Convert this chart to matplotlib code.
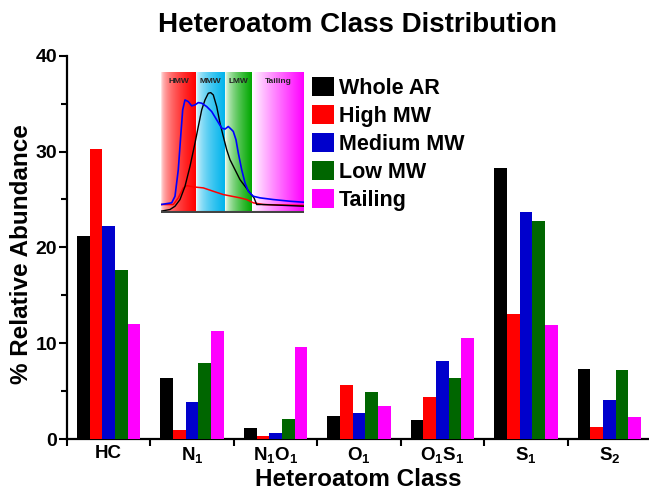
"""Heteroatom class distribution bar chart with chromatogram inset."""
import numpy as np
import matplotlib
matplotlib.use('Agg')
import matplotlib.pyplot as plt
from matplotlib.colors import to_rgb

plt.rcParams['font.family'] = ['Liberation Sans', 'DejaVu Sans']
plt.rcParams['font.weight'] = 'bold'
plt.rcParams['mathtext.fontset'] = 'custom'
plt.rcParams['mathtext.rm'] = 'Liberation Sans:bold'
plt.rcParams['mathtext.it'] = 'Liberation Sans:bold'
plt.rcParams['mathtext.bf'] = 'Liberation Sans:bold'

# bar data (% relative abundance)
classes = ['HC', 'N$_1$', 'N$_1$O$_1$', 'O$_1$', 'O$_1$S$_1$', 'S$_1$', 'S$_2$']
series = ['Whole AR', 'High MW', 'Medium MW', 'Low MW', 'Tailing']
whole_ar = [21.2, 6.4, 1.2, 2.4, 2.0, 28.3, 7.3]
high_mw = [30.3, 0.9, 0.3, 5.6, 4.4, 13.0, 1.3]
medium_mw = [22.2, 3.9, 0.6, 2.7, 8.1, 23.7, 4.1]
low_mw = [17.6, 7.9, 2.1, 4.9, 6.4, 22.8, 7.2]
tailing = [12.0, 11.3, 9.6, 3.4, 10.5, 11.9, 2.3]
colors = ['#000000', '#FF0000', '#0000CC', '#006600', '#FF00FF']

# inset chromatogram traces (x position, signal height)
black_x = [161, 170, 175, 180, 185, 190, 195, 198.3, 201.7, 205, 208.3, 210.7, 213.3,
           216.7, 220, 223.3, 226.7, 230, 235, 240, 245, 250, 254, 256.7, 263.3, 280, 304]
black_y = [0.3, 2, 5.3, 12, 25.3, 45.3, 68.7, 85.3, 102, 112, 118.7, 119.3, 117,
           105.3, 88.7, 75.3, 62, 52, 42, 32, 25.3, 18.7, 13.7, 7, 7, 6.3, 5.3]
blue_x = [161, 171.7, 175, 178.3, 180.7, 182.7, 185, 188.3, 191.7, 195, 198.3, 201.7,
          206.7, 211.7, 216.7, 221.7, 225, 228.3, 231.7, 233.3, 236, 238.3, 241.7, 245,
          248.3, 253.3, 260, 273.3, 290, 304]
blue_y = [7, 8.7, 15.3, 42, 75.3, 102, 112, 110.3, 106, 107, 109.3, 108.7,
          105.3, 100.3, 92, 83.7, 82.7, 85.3, 82, 80.3, 72, 58.7, 42, 28.7,
          20.3, 15.3, 13.7, 12, 10.3, 9.3]
red_x = [161, 173.3, 178.3, 183.3, 186.7, 193.3, 203.3, 213.3, 223.3, 235, 240, 246.7,
         253.3, 263.3, 304]
red_y = [7, 7, 13.7, 23.7, 26, 24.7, 23.7, 20.3, 17, 14.7, 13.7, 12, 8.7, 7, 6]

regions = ['HMW', 'MMW', 'LMW', 'Tailing']
region_edges = [161, 196, 225, 252, 304]
region_colors = ['#FF0000', '#00B4EC', '#00A800', '#FF00FF']
region_gamma = [0.45, 0.5, 0.6, 0.9]

fig = plt.figure(figsize=(6.49, 4.92), dpi=100)
ax = fig.add_axes([67 / 649, 1 - 439 / 492, 584 / 649, 383.3 / 492])

x = np.arange(len(classes))
width = 0.152
for j, (name, vals, c) in enumerate(zip(series, [whole_ar, high_mw, medium_mw, low_mw, tailing], colors)):
    ax.bar(x + (j - 2) * width, vals, width, color=c, label=name, zorder=1)

ax.set_xlim(-0.5, 6.5)
ax.set_ylim(0, 40)
ax.set_xticks(x)
ax.set_xticklabels(classes, fontsize=13.5, fontweight='bold')
ax.set_xticks(np.arange(-0.5, 7, 1), minor=True)
ax.tick_params(axis='x', which='major', length=0, pad=4)
ax.tick_params(axis='x', which='minor', length=5, width=1.5, direction='out')
ax.set_yticks([0, 10, 20, 30, 40])
ax.set_yticklabels(['0', '10', '20', '30', '40'], fontsize=14, fontweight='bold')
ax.set_yticks([5, 15, 25, 35], minor=True)
ax.tick_params(axis='y', which='major', length=6, width=1.5, pad=1)
ax.tick_params(axis='y', which='minor', length=4.5, width=1.5)
for s in ['top', 'right']:
    ax.spines[s].set_visible(False)
for s in ['left', 'bottom']:
    ax.spines[s].set_linewidth(1.6)
    ax.spines[s].set_zorder(0)

fig.text(358 / 649, 1 - 25 / 492, 'Heteroatom Class Distribution', ha='center', va='center',
         fontsize=20, fontweight='bold')
fig.text(358 / 649, 1 - 480 / 492, 'Heteroatom Class', ha='center', va='center',
         fontsize=17.5, fontweight='bold')
fig.text(22 / 649, 1 - 254 / 492, '% Relative Abundance', ha='center', va='center',
         rotation=90, fontsize=17.5, fontweight='bold')

fig.legend(loc='upper left', bbox_to_anchor=(312 / 649, 1 - 77 / 492), frameon=False,
           handlelength=1.0, handleheight=1.0, handletextpad=0.25,
           labelspacing=0.28, borderpad=0, borderaxespad=0,
           prop={'weight': 'bold', 'size': 15.5})

# inset
ins = fig.add_axes([161 / 649, 1 - 213 / 492, 143 / 649, 141 / 492])
ins.set_xlim(161, 304)
ins.set_ylim(-1.5, 140)
for k in range(4):
    x0, x1 = region_edges[k], region_edges[k + 1]
    t = np.linspace(0, 1, 200) ** region_gamma[k]
    c = np.array(to_rgb(region_colors[k]))
    grad = (1 - t)[:, None] * np.ones(3) + t[:, None] * c
    ins.imshow(grad[None, :, :], extent=[x0, x1, 0, 140], aspect='auto', zorder=0,
               interpolation='bilinear')
    ins.text((x0 + x1) / 2, 130, regions[k], ha='center', va='center', fontsize=6,
             fontweight='bold', color='#222222', zorder=3)
ins.plot(red_x, red_y, color='#FF0000', lw=1.1, zorder=2)
ins.plot(black_x, black_y, color='#000000', lw=1.0, zorder=2)
ins.plot(blue_x, blue_y, color='#0000FF', lw=1.2, zorder=2)
ins.axhline(0, color='#444444', lw=1.5, zorder=3)
ins.set_xticks([])
ins.set_yticks([])
for s in ins.spines.values():
    s.set_visible(False)

fig.savefig('out.png', dpi=100)
